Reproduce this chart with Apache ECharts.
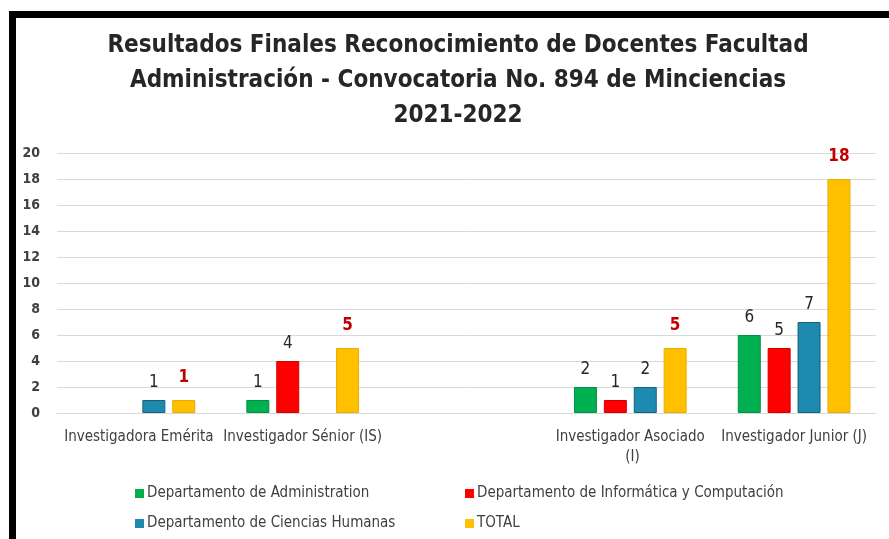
<!DOCTYPE html>
<html>
<head>
<meta charset="utf-8">
<script src="https://cdn.jsdelivr.net/npm/echarts@6/dist/echarts.min.js"></script>
<style>
  html, body { margin: 0; padding: 0; background: #fff; }
  #chart { width: 889px; height: 539px; }
</style>
</head>
<body>
<div id="chart"></div>
<script>
// categorias (la del medio va vacia, como en el original)
var categorias = ['Investigadora Emérita', 'Investigador Sénior (IS)', '', 'Investigador Asociado (I)', 'Investigador Junior (J)'];
var administracion = [null, 1, null, 2, 6];
var informatica = [null, 4, null, 1, 5];
var humanas = [1, null, null, 2, 7];
var total = [1, 5, null, 5, 18];
var nombres = ['Departamento de Administration', 'Departamento de Informática y Computación', 'Departamento de Ciencias Humanas', 'TOTAL'];
var colores = ['#00B050', '#FF0000', '#1F8AAF', '#FFC000'];
var bordes = ['#00913f', '#d40000', '#14617c', '#e8ad00'];
var ticksY = [0, 20, 2];

var fuente = "'Liberation Sans Narrow', 'DejaVu Sans Condensed', sans-serif";

var chart = echarts.init(document.getElementById('chart'));

function serie(i, datos) {
  var esTotal = (i === 3);
  return {
    name: nombres[i],
    type: 'bar',
    data: datos,
    barWidth: 23,
    barGap: '30%',
    itemStyle: { color: colores[i], borderColor: bordes[i], borderWidth: 1 },
    label: {
      show: true,
      position: 'top',
      distance: esTotal ? 14 : 9,
      fontFamily: fuente,
      fontSize: 17,
      fontWeight: esTotal ? 'bold' : 'normal',
      color: esTotal ? '#C00000' : '#262626'
    }
  };
}

// en el original solo "Investigador Asociado (I)" se parte en dos lineas
var datosX = categorias.map(function (c, i) {
  return i === 3 ? { value: c, textStyle: { width: 150, overflow: 'break' } } : c;
});

// una leyenda por elemento para que queden en columnas
var posLeyenda = [[130, 481], [460, 481], [130, 511], [460, 511]];
var leyendas = nombres.map(function (n, i) {
  return {
    data: [n],
    left: posLeyenda[i][0],
    top: posLeyenda[i][1],
    itemWidth: 9,
    itemHeight: 9,
    itemGap: 4,
    icon: 'rect',
    itemStyle: { borderWidth: 0 },
    textStyle: { fontFamily: fuente, fontSize: 15, color: '#404040', padding: [0, 0, 0, -2] }
  };
});

var option = {
  animation: false,
  backgroundColor: '#fff',
  title: {
    text: 'Resultados Finales Reconocimiento de Docentes Facultad\nAdministración - Convocatoria No. 894 de Minciencias\n2021-2022',
    left: 453,
    textAlign: 'center',
    top: 23,
    textStyle: { fontFamily: fuente, fontSize: 24, fontWeight: 'bold', color: '#262626', lineHeight: 35 }
  },
  legend: leyendas,
  grid: { left: 57, right: 13, top: 153, bottom: 126 },
  xAxis: {
    type: 'category',
    data: datosX,
    axisLine: { lineStyle: { color: '#d9d9d9' } },
    axisTick: { show: false },
    axisLabel: {
      interval: 0,
      margin: 14,
      fontFamily: fuente,
      fontSize: 15,
      color: '#404040',
      width: 180,
      overflow: 'break',
      lineHeight: 20
    }
  },
  yAxis: {
    type: 'value',
    min: ticksY[0],
    max: ticksY[1],
    interval: ticksY[2],
    axisLine: { show: false },
    axisTick: { show: false },
    splitLine: { lineStyle: { color: '#d9d9d9', width: 1 } },
    axisLabel: { margin: 17, fontFamily: fuente, fontSize: 14, fontWeight: 'bold', color: '#404040' }
  },
  series: [
    serie(0, administracion),
    serie(1, informatica),
    serie(2, humanas),
    serie(3, total)
  ],
  graphic: [
    { type: 'rect', shape: { x: 9, y: 11, width: 880, height: 7 }, style: { fill: '#000' } },
    { type: 'rect', shape: { x: 9, y: 11, width: 7, height: 528 }, style: { fill: '#000' } }
  ]
};

chart.setOption(option);
</script>
</body>
</html>
